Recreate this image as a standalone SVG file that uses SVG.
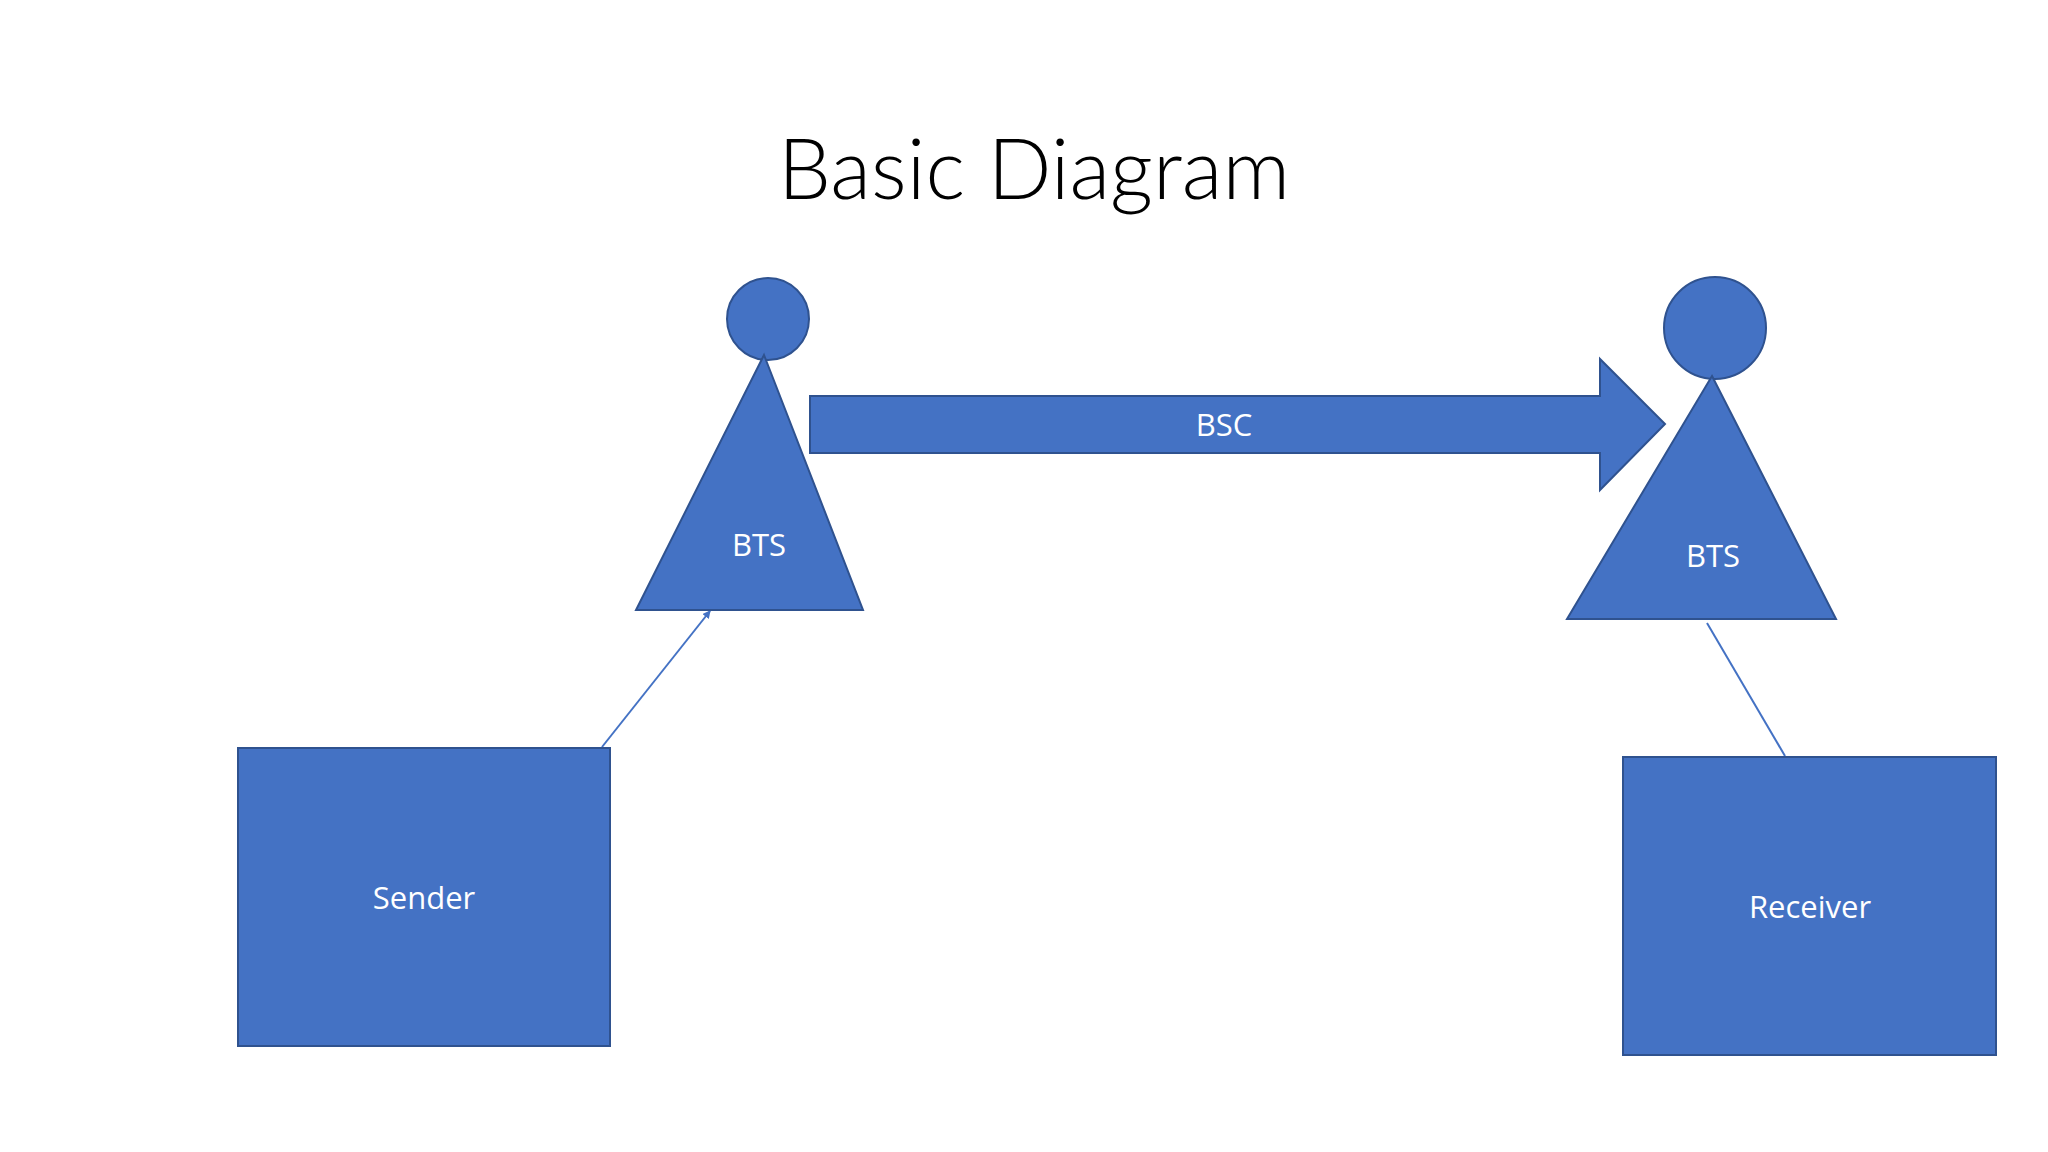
<svg xmlns="http://www.w3.org/2000/svg" width="2048" height="1152" viewBox="0 0 2048 1152">
<style>
.s{fill:#4472C4;stroke:#2F528F;stroke-width:2}
.t{fill:#fff;font-family:"Open Sans","Liberation Sans",sans-serif;font-size:31px;text-anchor:middle}
.c{stroke:#4472C4;stroke-width:2;fill:none}
</style>
<defs><marker id="a" markerWidth="8" markerHeight="8" refX="7" refY="4" orient="auto" markerUnits="userSpaceOnUse"><path d="M0,0L8,4L0,8z" fill="#4472C4"/></marker></defs>
<rect width="2048" height="1152" fill="#fff"/>
<text x="1034" y="199" font-family="Lato,'Open Sans',sans-serif" font-weight="300" font-size="84" text-anchor="middle" fill="#000">Basic Diagram</text>
<g id="connectors">
<line class="c" x1="602" y1="747" x2="710" y2="611" marker-end="url(#a)"/>
<line class="c" x1="1785" y1="756" x2="1707" y2="623"/>
</g>
<g id="bts1"><circle class="s" cx="768" cy="319" r="41"/><polygon class="s" points="764,355 863,610 636,610"/><text class="t" x="759" y="556">BTS</text></g>
<g id="bts2"><circle class="s" cx="1715" cy="328" r="51"/><polygon class="s" points="1712,376 1836,619 1567,619"/><text class="t" x="1713" y="567">BTS</text></g>
<g id="bsc"><polygon class="s" points="810,396 1600,396 1600,359 1665,424 1600,490 1600,453 810,453"/><text class="t" x="1224" y="436">BSC</text></g>
<g id="sender"><rect class="s" x="238" y="748" width="372" height="298"/><text class="t" x="424" y="909">Sender</text></g>
<g id="receiver"><rect class="s" x="1623" y="757" width="373" height="298"/><text class="t" x="1810" y="918">Receiver</text></g>
</svg>
